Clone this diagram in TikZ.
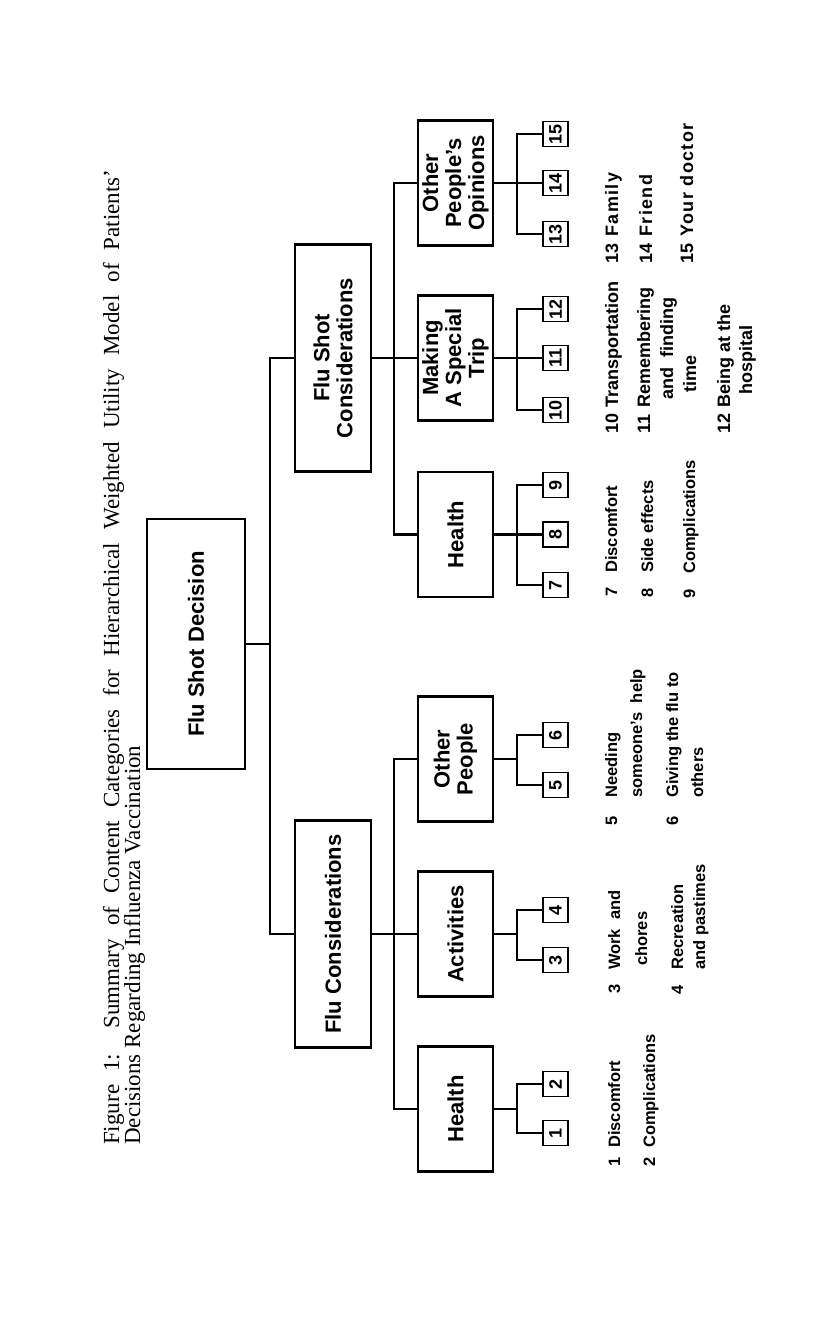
\documentclass[tikz,border=0pt]{standalone}
\usepackage{fontspec}
\setmainfont{Liberation Serif}
\newfontfamily\hv{Liberation Sans}
\newfontfamily\hvsp{Liberation Sans}[LetterSpace=8]
\tikzset{
  box/.style={draw, line width=2.1pt, rotate=90, inner sep=0pt, align=center,
    font=\hv\bfseries\fontsize{22}{23}\selectfont},
  lvtwo/.style={box, minimum width=125pt, minimum height=75pt},
  lvone/.style={box, minimum width=227pt, minimum height=76pt},
  numbox/.style={draw, line width=1.8pt, rotate=90, inner sep=0pt, minimum size=25pt,
    font=\hv\bfseries\fontsize{18}{18}\selectfont},
  conn/.style={line width=2.1pt},
  leg/.style={rotate=90, anchor=base west, inner sep=0pt,
    font=\hv\bfseries\fontsize{16.5}{20}\selectfont},
  legb/.style={leg, font=\hv\bfseries\fontsize{18}{20}\selectfont},
  legc/.style={leg, font=\hvsp\bfseries\fontsize{18}{20}\selectfont},
  ttl/.style={rotate=90, anchor=base west, inner sep=0pt,
    font=\fontsize{23}{23}\selectfont},
}
\begin{document}
\begin{tikzpicture}[x=1pt, y=-1pt]
\fill[white] (0,0) rectangle (816,1327);
\useasboundingbox (0,0) rectangle (816,1327);

% title
\node[ttl] (t1) at (119,1145) {\makebox[975pt][s]{Figure 1:\hspace{1.1em}Summary of Content Categories for Hierarchical Weighted Utility Model of Patients’}};
\node[ttl] (t2) at (140,1145) {Decisions Regarding Influenza Vaccination};

% boxes
\node[box, minimum width=250pt, minimum height=98pt] (fsd) at (196,644) {Flu Shot Decision};
\node[lvone] (fc) at (333,934) {Flu Considerations};
\node[lvone] (fsc) at (333,358) {Flu Shot\\Considerations};
\node[lvtwo] (hl) at (455.5,1109) {Health};
\node[lvtwo] (act) at (455.5,934) {Activities};
\node[lvtwo] (op) at (455.5,759) {Other\\People};
\node[lvtwo] (hr) at (455.5,534.5) {Health};
\node[lvtwo] (mk) at (455.5,358) {Making\\A Special\\Trip};
\node[lvtwo] (opo) at (455.5,183) {Other\\People’s\\Opinions};

% numbered boxes
\node[numbox] (n1) at (555.5,1133) {1};
\node[numbox] (n2) at (555.5,1084) {2};
\node[numbox] (n3) at (555.5,960) {3};
\node[numbox] (n4) at (555.5,910) {4};
\node[numbox] (n5) at (555.5,785) {5};
\node[numbox] (n6) at (555.5,735) {6};
\node[numbox] (n7) at (555.5,585) {7};
\node[numbox] (n8) at (555.5,534.5) {8};
\node[numbox] (n9) at (555.5,485) {9};
\node[numbox] (n10) at (555.5,410) {10};
\node[numbox] (n11) at (555.5,358) {11};
\node[numbox] (n12) at (555.5,309) {12};
\node[numbox] (n13) at (555.5,234) {13};
\node[numbox] (n14) at (555.5,183) {14};
\node[numbox] (n15) at (555.5,134) {15};

% junctions
\coordinate (j0) at (270,644);
\coordinate (j1) at (394,934);
\coordinate (j2) at (394,358);
\coordinate (k1) at (517,1109);
\coordinate (k2) at (517,934);
\coordinate (k3) at (517,759);
\coordinate (k4) at (517,534.5);
\coordinate (k5) at (517,358);
\coordinate (k6) at (517,183);

% connectors
\draw[conn] (fsd.south) -- (j0);
\draw[conn] (fsc.north) -| (j0) |- (fc.north);
\draw[conn] (fc.south) -- (act.north);
\draw[conn] (op.north) -| (j1) |- (hl.north);
\draw[conn] (fsc.south) -- (mk.north);
\draw[conn] (opo.north) -| (j2) |- (hr.north);

\draw[conn] (hl.south) -- (k1);
\draw[conn] (n2.north) -| (k1) |- (n1.north);
\draw[conn] (act.south) -- (k2);
\draw[conn] (n4.north) -| (k2) |- (n3.north);
\draw[conn] (op.south) -- (k3);
\draw[conn] (n6.north) -| (k3) |- (n5.north);
\draw[conn] (hr.south) -- (n8.north);
\draw[conn] (n9.north) -| (k4) |- (n7.north);
\draw[conn] (mk.south) -- (n11.north);
\draw[conn] (n12.north) -| (k5) |- (n10.north);
\draw[conn] (opo.south) -- (n14.north);
\draw[conn] (n15.north) -| (k6) |- (n13.north);

% legend
\node[leg] (l1n) at (620,1167) {1};
\node[leg] (l1t) at (620,1148) {Discomfort};
\node[leg] (l2n) at (655,1167) {2};
\node[leg] (l2t) at (655,1148) {Complications};
\node[leg] (l3n) at (620,994) {3};
\node[leg] (l3t) at (620,970) {Work\ \ and};
\node[leg] (l3u) at (647,966) {chores};
\node[leg] (l4n) at (683,995) {4};
\node[leg] (l4t) at (683,970) {Recreation};
\node[leg] (l4u) at (705,970) {and pastimes};
\node[leg] (l5n) at (617,826) {5};
\node[leg] (l5t) at (617,798) {Needing};
\node[leg] (l5u) at (642,798) {someone’s\ \ help};
\node[leg] (l6n) at (678,826) {6};
\node[leg] (l6t) at (678,798) {Giving the flu to};
\node[leg] (l6u) at (703,798) {others};
\node[leg] (l7n) at (617,597) {7};
\node[leg] (l7t) at (617,573) {Discomfort};
\node[leg] (l8n) at (653,598) {8};
\node[leg] (l8t) at (653,573) {Side effects};
\node[leg] (l9n) at (695,599) {9};
\node[leg] (l9t) at (695,574) {Complications};
\node[legb] (l10n) at (618,434) {10};
\node[legb] (l10t) at (618,408) {Transportation};
\node[legb] (l11n) at (650,434) {11};
\node[legb] (l11t) at (650,408) {Remembering};
\node[legb] (l11u) at (673,400) {and\ \ finding};
\node[legb] (l11v) at (696,393) {time};
\node[legb] (l12n) at (730,434) {12};
\node[legb] (l12t) at (730,408) {Being at the};
\node[legb] (l12u) at (752,395) {hospital};
\node[legb] (l13n) at (618,264) {13};
\node[legc] (l13t) at (618,237) {Family};
\node[legb] (l14n) at (652,264) {14};
\node[legc] (l14t) at (652,237) {Friend};
\node[legb] (l15n) at (693,264) {15};
\node[legc] (l15t) at (693,237) {Your doctor};
\end{tikzpicture}
\end{document}
